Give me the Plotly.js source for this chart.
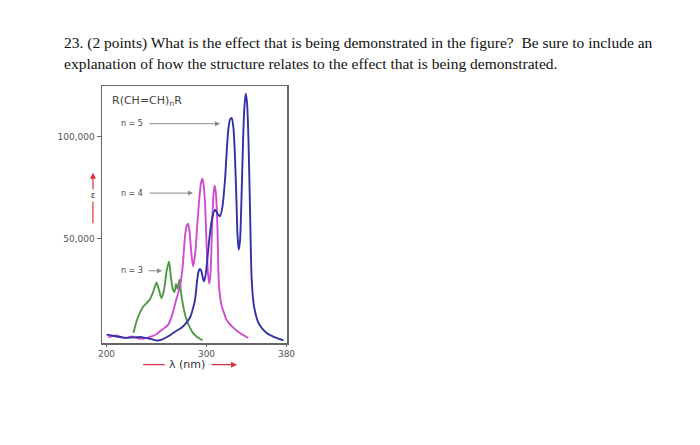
<!DOCTYPE html>
<html>
<head>
<meta charset="utf-8">
<script src="https://cdn.plot.ly/plotly-3.0.1.min.js"></script>
<style>html,body{margin:0;padding:0;background:#fff;}#chart{width:700px;height:445px;}</style>
</head>
<body>
<div id="chart"></div>
<script>
// n = 5 (blue)
const blueNm  = [200,205,210,215,220,225,230,235,240,245,251,256,260,265,270,275,280,284,286.5,288.5,290.5,292,293.5,295,296.5,297.5,299,301,303.5,306,308.5,311,313.5,316,318.5,320.5,321.8,323.5,325.2,327,328.5,330,331,332.2,333.5,335,336.5,337.8,339.2,340.5,342,343.5,345.2,347.5,352,360,370,377];
const blueEps = [3100,2700,2200,1800,1500,1700,1800,1900,1400,900,200,800,1800,3300,5000,6500,9000,12000,16000,20000,29000,34000,35300,34000,30500,29200,32000,41000,53000,61000,64300,62500,61100,66000,79000,95000,103600,108500,109300,104000,90000,68000,52000,44750,49000,70000,97000,114000,121200,117000,98000,65000,30000,17000,8800,3900,1470,300];
// n = 4 (magenta)
const magNm  = [201.8,206,210,215,220,225,230,235,240,245,250,253.5,257.5,261.8,264,266.2,268.5,270.2,273.5,276.2,278.5,280,281.5,283,284.5,286.5,288.5,290.5,292.5,294.5,295.8,297,298.5,300,301.5,302.8,304,305.5,307,308.2,309.5,311,312.5,315,318,320,327,333,337,341.8];
const magEps = [1800,2500,2700,1900,1600,2200,1500,1000,1500,2200,3300,4700,6200,8000,10500,13700,18000,21000,26800,36600,51300,56000,57500,54000,45000,36600,42000,55000,68000,77500,79600,77000,68000,48000,33000,28100,33000,55000,72000,76100,72000,55000,27000,17500,13000,10400,6400,4000,2800,1470];
// n = 3 (green)
const grnNm  = [227,230,233.5,237,240,243.5,247,250,252.5,255,257.5,260,262.5,264.5,266.5,268,269.5,271,273,274.5,276,278,280,283,286,290,296];
const grnEps = [4000,9500,14000,17000,18500,20500,24500,28700,25000,21000,25000,34000,39000,31000,25000,24000,28000,25500,30000,24000,19000,14000,10500,7000,4200,2200,300];

const xTicks = [200,300,380];
const xTickText = ['200','300','380'];
const yTicks = [50000,100000];
const yTickText = ['50,000','100,000'];

const seriesNames = ['n = 3','n = 4','n = 5'];
const titleText = 'R(CH=CH)<sub>n</sub>R';
const question1 = '23. (2 points) What is the effect that is being demonstrated in the figure?  Be sure to include an';
const question2 = 'explanation of how the structure relates to the effect that is being demonstrated.';

const lineShape = {shape:'spline', smoothing:0.7, width:1.9};
const traces = [
  {x:grnNm, y:grnEps, name:seriesNames[0], mode:'lines', line:Object.assign({color:'#4e9a44'}, lineShape)},
  {x:magNm, y:magEps, name:seriesNames[1], mode:'lines', line:Object.assign({color:'#d04bd0'}, lineShape)},
  {x:blueNm, y:blueEps, name:seriesNames[2], mode:'lines', line:Object.assign({color:'#3232a6'}, lineShape)}
];

const sans = 'DejaVu Sans, Verdana, sans-serif';
const grey = '#888';
function arrowAnn(x, y, ax){
  return {x:x, y:y, xref:'x', yref:'y', text:'', showarrow:true, ax:ax, ay:0,
          arrowhead:2, arrowsize:1, arrowwidth:1, arrowcolor:grey};
}
function label(x, y, t){
  return {x:x, y:y, xref:'x', yref:'y', text:t, showarrow:false, xanchor:'center', yanchor:'middle',
          font:{family:sans, size:8, color:'#444'}};
}

const layout = {
  width:700, height:445,
  margin:{l:102, r:413, t:86, b:102},
  paper_bgcolor:'#fff', plot_bgcolor:'#fff',
  showlegend:false,
  xaxis:{range:[195.5,380.5], tickvals:xTicks, ticktext:xTickText, ticks:'outside', ticklen:2, tickcolor:'#666',
         ticklabelstandoff:0,
         showgrid:false, zeroline:false, showline:true, mirror:true, linecolor:'#666', linewidth:1.5,
         tickfont:{family:sans, size:9, color:'#555'}},
  yaxis:{range:[-1000,125000], tickvals:yTicks, ticktext:yTickText, ticks:'outside', ticklen:4, tickcolor:'#666',
         showgrid:false, zeroline:false, showline:true, mirror:true, linecolor:'#666', linewidth:1.5,
         tickfont:{family:sans, size:9, color:'#555'}},
  annotations:[
    {x:203.5, y:117500, xref:'x', yref:'y', text:titleText, showarrow:false, xanchor:'left', yanchor:'middle',
     font:{family:sans, size:11, color:'#444'}},
    label(225, 106500, seriesNames[2]),
    arrowAnn(313.5, 106500, -72),
    label(225, 72500, seriesNames[1]),
    arrowAnn(286.5, 72500, -45),
    label(225, 34400, seriesNames[0]),
    arrowAnn(255.5, 34400, -15),
    // epsilon with red arrow
    {x:-0.049, y:0.662, xref:'paper', yref:'paper', ax:-0.049, ay:0.46, axref:'paper', ayref:'paper',
     text:'', showarrow:true, arrowhead:2, arrowsize:1, arrowwidth:1.2, arrowcolor:'#e0303a'},
    {x:-0.049, y:0.5725, xref:'paper', yref:'paper', text:'ε', showarrow:false, bgcolor:'#fff',
     xanchor:'center', yanchor:'middle', font:{family:sans, size:8, color:'#333'}},
    // lambda label
    {x:0.462, y:-0.0843, xref:'paper', yref:'paper', text:'λ (nm)', showarrow:false,
     xanchor:'center', yanchor:'middle', font:{family:sans, size:11, color:'#333'}},
    {x:0.73, y:-0.0843, xref:'paper', yref:'paper', ax:0.584, ay:-0.0843, axref:'paper', ayref:'paper',
     text:'', showarrow:true, arrowhead:2, arrowsize:1, arrowwidth:1.2, arrowcolor:'#e0303a'},
    // question text
    {x:-0.216, y:1.167, xref:'paper', yref:'paper', text:question1, showarrow:false, xanchor:'left', yanchor:'middle',
     font:{family:'Liberation Serif, Times New Roman, serif', size:15.5, color:'#111'}},
    {x:-0.216, y:1.087, xref:'paper', yref:'paper', text:question2, showarrow:false, xanchor:'left', yanchor:'middle',
     font:{family:'Liberation Serif, Times New Roman, serif', size:15.5, color:'#111'}}
  ],
  shapes:[
    {type:'line', xref:'paper', yref:'paper', x0:0.222, x1:0.34, y0:-0.0843, y1:-0.0843,
     line:{color:'#e0303a', width:1.2}}
  ]
};

Plotly.newPlot('chart', traces, layout, {displayModeBar:false, staticPlot:true});
</script>
</body>
</html>
